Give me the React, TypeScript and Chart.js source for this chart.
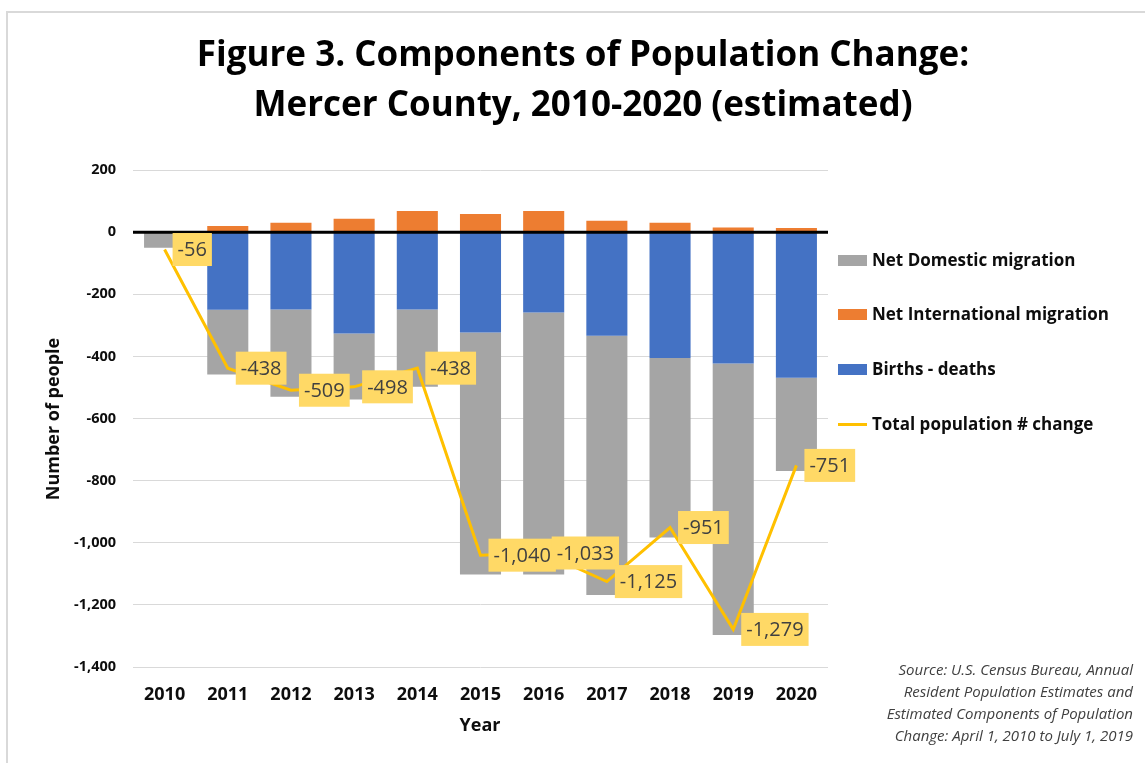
import React, { useEffect, useRef } from "react";
import { Chart, registerables } from "chart.js";

Chart.register(...registerables);

const years = ["2010", "2011", "2012", "2013", "2014", "2015", "2016", "2017", "2018", "2019", "2020"];
const birthsDeaths = [0, -250, -249, -326, -249, -323, -259, -334, -405, -423, -469];
const netDomestic = [-50, -208, -281, -213, -249, -779, -843, -834, -578, -874, -300];
const netInternational = [0, 20, 30, 43, 68, 58, 68, 37, 30, 15, 13];
const totalChange = [-56, -438, -509, -498, -438, -1040, -1033, -1125, -951, -1279, -751];

const titleLines = ["Figure 3. Components of Population Change:", "Mercer County, 2010-2020 (estimated)"];
const sourceLines = [
  "Source: U.S. Census Bureau, Annual",
  "Resident Population Estimates and",
  "Estimated Components of Population",
  "Change: April 1, 2010 to July 1, 2019",
];
const legendItems = [
  { label: "Net Domestic migration", color: "#A5A5A5", kind: "box" },
  { label: "Net International migration", color: "#ED7D31", kind: "box" },
  { label: "Births - deaths", color: "#4472C4", kind: "box" },
  { label: "Total population # change", color: "#FFC000", kind: "line" },
];

const FONT = "'Open Sans', Lato, sans-serif";

const fmt = (v: number) => v.toLocaleString("en-US");

const overlayPlugin = {
  id: "overlayPlugin",
  afterDatasetsDraw(chart: any) {
    const { ctx, chartArea, scales } = chart;
    const y0 = scales.y.getPixelForValue(0);
    ctx.save();
    ctx.strokeStyle = "#000000";
    ctx.lineWidth = 3;
    ctx.beginPath();
    ctx.moveTo(chartArea.left, y0);
    ctx.lineTo(chartArea.right, y0);
    ctx.stroke();
    ctx.restore();
  },
  afterDraw(chart: any) {
    const { ctx } = chart;
    const meta = chart.getDatasetMeta(0);
    ctx.save();
    ctx.font = "400 20px " + FONT;
    ctx.textBaseline = "middle";
    ctx.textAlign = "left";
    meta.data.forEach((pt: any, i: number) => {
      const text = fmt(totalChange[i]);
      const w = ctx.measureText(text).width + 10;
      const h = 33;
      const x = pt.x + 8;
      const yy = pt.y - h / 2;
      ctx.fillStyle = "#FFD966";
      ctx.fillRect(x, yy, w, h);
      ctx.fillStyle = "#404040";
      ctx.fillText(text, x + 5, pt.y + 1);
    });
    ctx.restore();
  },
};

export default function App() {
  const canvasRef = useRef<HTMLCanvasElement | null>(null);

  useEffect(() => {
    if (!canvasRef.current) return;
    const chart = new Chart(canvasRef.current, {
      type: "bar",
      data: {
        labels: years,
        datasets: [
          {
            type: "line",
            label: "Total population # change",
            data: totalChange,
            borderColor: "#FFC000",
            backgroundColor: "#FFC000",
            borderWidth: 3,
            pointRadius: 0,
            tension: 0,
            stack: "line",
            order: 0,
          } as any,
          {
            label: "Births - deaths",
            data: birthsDeaths,
            backgroundColor: "#4472C4",
            stack: "bars",
            order: 1,
            barPercentage: 0.65,
            categoryPercentage: 1,
          },
          {
            label: "Net Domestic migration",
            data: netDomestic,
            backgroundColor: "#A5A5A5",
            stack: "bars",
            order: 1,
            barPercentage: 0.65,
            categoryPercentage: 1,
          },
          {
            label: "Net International migration",
            data: netInternational,
            backgroundColor: "#ED7D31",
            stack: "bars",
            order: 1,
            barPercentage: 0.65,
            categoryPercentage: 1,
          },
        ],
      },
      options: {
        animation: false,
        responsive: false,
        maintainAspectRatio: false,
        layout: { padding: { top: 170, right: 317, left: 0, bottom: 0 } },
        plugins: {
          legend: { display: false },
          title: { display: false },
          tooltip: { enabled: false },
        },
        scales: {
          x: {
            stacked: true,
            grid: { display: false, drawTicks: false },
            border: { display: false },
            ticks: {
              color: "#0d0d0d",
              font: { family: FONT, size: 18, weight: "bold" },
              padding: 17,
            },
            afterFit(scale: any) {
              scale.height = 96;
            },
          },
          y: {
            stacked: true,
            min: -1400,
            max: 200,
            grid: { color: "#d9d9d9", lineWidth: 1, drawTicks: false },
            border: { display: false },
            ticks: {
              stepSize: 200,
              color: "#0d0d0d",
              font: { family: FONT, size: 14.5, weight: "bold" },
              padding: 17,
              callback: (v: any) => fmt(Number(v)),
            },
            afterFit(scale: any) {
              scale.width = 133;
            },
          },
        },
      },
      plugins: [overlayPlugin],
    });
    return () => chart.destroy();
  }, []);

  return (
    <div style={{ position: "fixed", left: 0, top: 0, width: 1145, height: 763, background: "#fff", overflow: "hidden", fontFamily: FONT }}>
      <div style={{ position: "absolute", left: 6, top: 11, right: -10, bottom: -10, borderLeft: "2px solid #d9d9d9", borderTop: "2px solid #d9d9d9" }} />
      <canvas ref={canvasRef} width={1145} height={763} style={{ position: "absolute", left: 0, top: 0 }} />
      {titleLines.map((t, i) => (
        <div key={i} style={{ position: "absolute", left: 83, width: 1000, top: 28 + i * 50, height: 50, lineHeight: "50px", textAlign: "center", fontWeight: 700, fontSize: 35, color: "#000", whiteSpace: "nowrap" }}>
          {t}
        </div>
      ))}
      <div style={{ position: "absolute", left: 52 - 100, top: 419 - 12, width: 200, height: 24, lineHeight: "24px", textAlign: "center", transform: "rotate(-90deg)", fontWeight: 700, fontSize: 18, color: "#0d0d0d", whiteSpace: "nowrap" }}>
        Number of people
      </div>
      <div style={{ position: "absolute", left: 380, width: 200, top: 712, height: 24, lineHeight: "24px", textAlign: "center", fontWeight: 700, fontSize: 18, color: "#0d0d0d" }}>
        Year
      </div>
      {legendItems.map((it, i) => {
        const cy = [260, 314, 369, 424][i];
        return (
          <div key={i} style={{ position: "absolute", left: 838, top: cy - 12, height: 24, whiteSpace: "nowrap" }}>
            {it.kind === "box" ? (
              <div style={{ position: "absolute", left: 0, top: 7, width: 29, height: 11, background: it.color }} />
            ) : (
              <div style={{ position: "absolute", left: 0, top: 11, width: 29, height: 3, background: it.color }} />
            )}
            <div style={{ position: "absolute", left: 34, top: 0, lineHeight: "24px", fontWeight: 700, fontSize: 17, color: "#0d0d0d" }}>{it.label}</div>
          </div>
        );
      })}
      <div style={{ position: "absolute", right: 12, top: 658, textAlign: "right", fontStyle: "italic", fontSize: 15, lineHeight: "22px", color: "#404040", whiteSpace: "nowrap" }}>
        {sourceLines.map((s, i) => (
          <div key={i}>{s}</div>
        ))}
      </div>
    </div>
  );
}
